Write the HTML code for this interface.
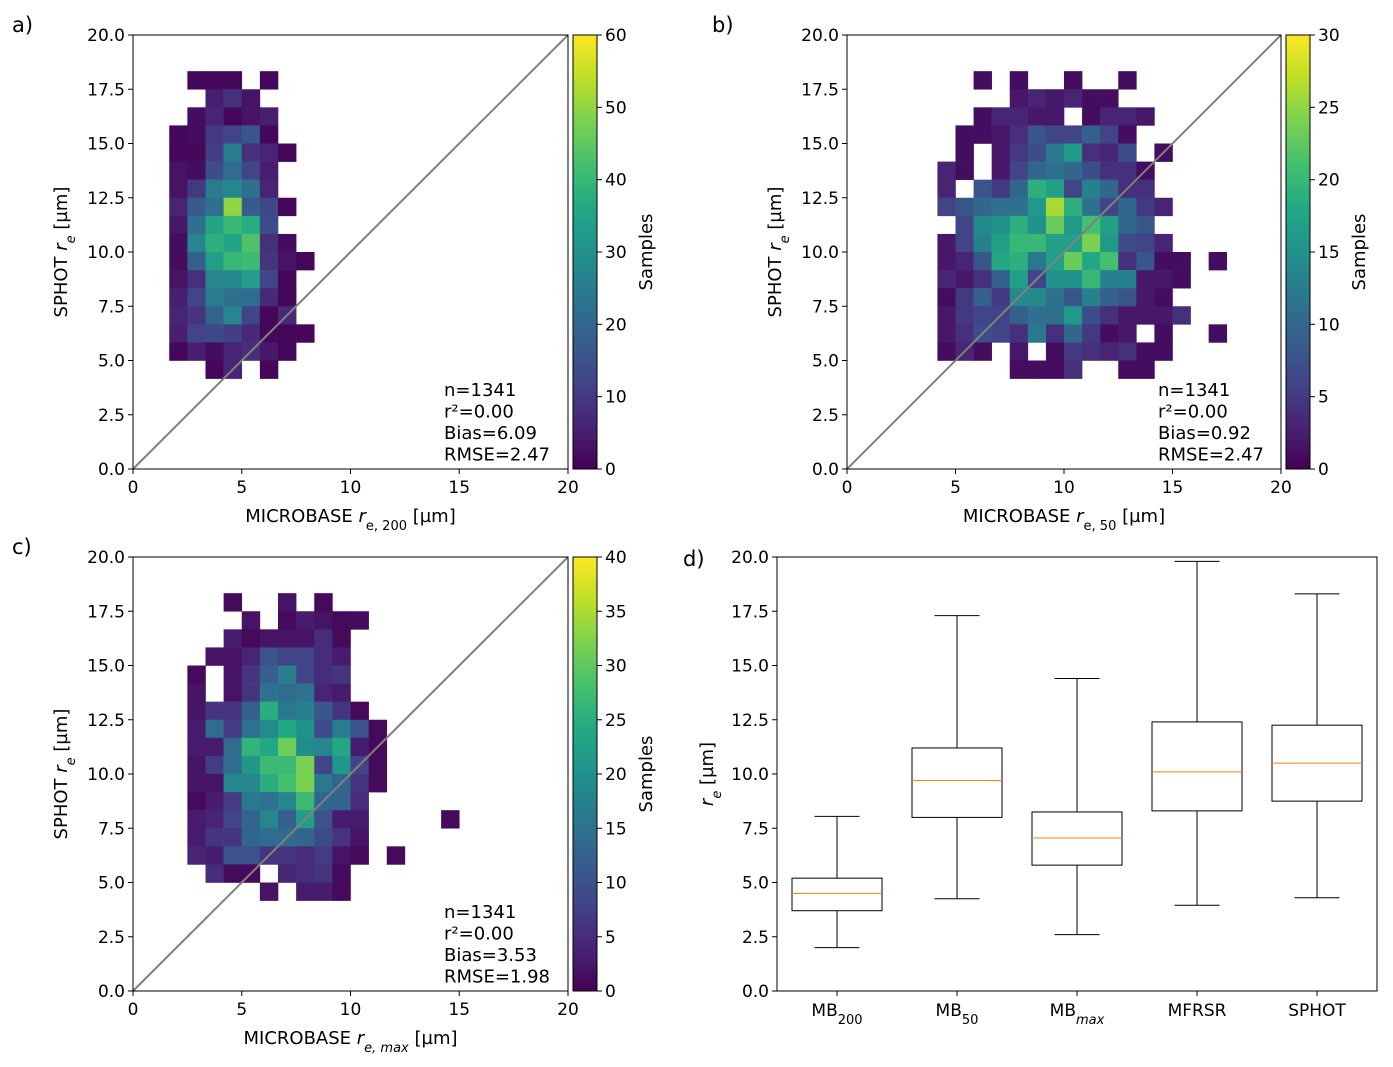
<!DOCTYPE html>
<html><head><meta charset="utf-8"><style>
body{margin:0;background:#fff;}
svg text{font-family:"DejaVu Sans","Liberation Sans",sans-serif;fill:#000;}
</style></head><body>
<svg id="fig" width="1393" height="1062" xmlns="http://www.w3.org/2000/svg">
<defs>
<linearGradient id="vir" x1="0" y1="1" x2="0" y2="0">
<stop offset="0" stop-color="#440154"/><stop offset="0.1" stop-color="#482475"/><stop offset="0.2" stop-color="#414487"/><stop offset="0.3" stop-color="#355f8d"/><stop offset="0.4" stop-color="#2a788e"/><stop offset="0.5" stop-color="#21918c"/><stop offset="0.6" stop-color="#22a884"/><stop offset="0.7" stop-color="#44bf70"/><stop offset="0.8" stop-color="#7ad151"/><stop offset="0.9" stop-color="#bddf26"/><stop offset="1" stop-color="#fde725"/>
</linearGradient>
</defs>
</svg>
<script>
// ---- data: [row(from top), col, count], 24x24 bins over 0..20
const cellsA = [[2,3,1],[2,4,1],[2,5,1],[2,7,1],[3,4,5],[3,5,8],[3,6,3],[4,3,2],[4,4,6],[4,5,1],[4,6,3],[4,7,5],
[5,2,1],[5,3,2],[5,4,10],[5,5,12],[5,6,16],[5,7,1],[6,2,1],[6,3,1],[6,4,11],[6,5,25],[6,6,8],[6,7,6],[6,8,1],
[7,2,3],[7,3,2],[7,4,14],[7,5,21],[7,6,12],[7,7,5],[8,2,3],[8,3,10],[8,4,25],[8,5,27],[8,6,22],[8,7,6],
[9,2,6],[9,3,17],[9,4,22],[9,5,50],[9,6,17],[9,7,13],[9,8,1],[10,2,4],[10,3,22],[10,4,35],[10,5,40],[10,6,37],[10,7,14],
[11,2,2],[11,3,27],[11,4,38],[11,5,35],[11,6,43],[11,7,8],[11,8,2],[12,2,2],[12,3,18],[12,4,33],[12,5,40],[12,6,41],[12,7,9],[12,8,3],[12,9,1],
[13,2,3],[13,3,8],[13,4,27],[13,5,28],[13,6,33],[13,7,12],[13,8,1],[14,2,5],[14,3,12],[14,4,25],[14,5,22],[14,6,21],[14,7,7],[14,8,1],
[15,2,6],[15,3,9],[15,4,19],[15,5,27],[15,6,12],[15,7,1],[15,8,7],[16,2,5],[16,3,12],[16,4,13],[16,5,11],[16,6,7],[16,7,1],[16,8,1],[16,9,1],
[17,2,1],[17,3,5],[17,4,2],[17,5,6],[17,6,8],[17,7,4],[17,8,1],[18,4,1],[18,5,6],[18,7,1]];
const cellsB = [[2,7,1],[2,9,1],[2,12,1],[2,15,1],[3,9,2],[3,10,3],[3,11,2],[3,12,3],[3,13,1],[3,14,1],
[4,7,1],[4,8,3],[4,9,3],[4,10,2],[4,11,2],[4,13,1],[4,14,3],[4,15,3],[4,16,2],
[5,6,1],[5,7,1],[5,8,2],[5,9,4],[5,10,8],[5,11,6],[5,12,6],[5,13,9],[5,14,6],[5,15,1],
[6,6,1],[6,8,2],[6,9,5],[6,10,7],[6,11,12],[6,12,16],[6,13,4],[6,14,3],[6,15,7],[6,17,1],
[7,5,3],[7,6,1],[7,8,2],[7,9,6],[7,10,10],[7,11,11],[7,12,10],[7,13,7],[7,14,4],[7,15,4],[7,16,1],
[8,5,3],[8,7,8],[8,8,5],[8,9,10],[8,10,19],[8,11,17],[8,12,6],[8,13,13],[8,14,10],[8,15,4],[8,16,4],
[9,5,6],[9,6,8],[9,7,10],[9,8,11],[9,9,11],[9,10,16],[9,11,26],[9,12,19],[9,13,11],[9,14,6],[9,15,10],[9,16,5],[9,17,3],
[10,6,6],[10,7,14],[10,8,15],[10,9,19],[10,10,15],[10,11,23],[10,12,16],[10,13,21],[10,14,17],[10,15,10],[10,16,8],
[11,5,2],[11,6,6],[11,7,13],[11,8,17],[11,9,20],[11,10,20],[11,11,17],[11,12,17],[11,13,24],[11,14,16],[11,15,7],[11,16,6],[11,17,3],
[12,5,2],[12,6,3],[12,7,8],[12,8,18],[12,9,19],[12,10,12],[12,11,17],[12,12,23],[12,13,18],[12,14,21],[12,15,4],[12,16,8],[12,17,1],[12,18,1],[12,20,1],
[13,5,3],[13,6,2],[13,7,4],[13,8,9],[13,9,17],[13,10,6],[13,11,15],[13,12,15],[13,13,20],[13,14,13],[13,15,13],[13,16,2],[13,17,2],[13,18,1],
[14,5,1],[14,6,5],[14,7,9],[14,8,5],[14,9,14],[14,10,14],[14,11,11],[14,12,8],[14,13,13],[14,14,9],[14,15,8],[14,16,2],[14,17,1],
[15,5,2],[15,6,5],[15,7,6],[15,8,6],[15,9,9],[15,10,11],[15,11,11],[15,12,16],[15,13,7],[15,14,4],[15,15,2],[15,16,2],[15,17,2],[15,18,4],
[16,5,2],[16,6,4],[16,7,7],[16,8,6],[16,9,4],[16,10,12],[16,11,4],[16,12,10],[16,13,5],[16,14,1],[16,15,2],[16,17,1],[16,20,1],
[17,5,1],[17,6,3],[17,7,1],[17,9,2],[17,11,1],[17,12,5],[17,13,4],[17,14,3],[17,15,4],[17,16,1],[17,17,1],
[18,9,1],[18,10,1],[18,11,1],[18,12,4],[18,15,1],[18,16,1]];
const cellsC = [[2,5,1],[2,8,2],[2,10,1],[3,6,2],[3,8,1],[3,9,3],[3,10,2],[3,11,1],[3,12,1],
[4,5,3],[4,6,1],[4,7,2],[4,8,2],[4,9,2],[4,10,5],[4,11,1],
[5,4,2],[5,5,2],[5,6,4],[5,7,10],[5,8,8],[5,9,8],[5,10,5],[5,11,3],
[6,3,1],[6,5,2],[6,6,6],[6,7,12],[6,8,17],[6,9,8],[6,10,5],[6,11,6],
[7,3,2],[7,5,2],[7,6,6],[7,7,15],[7,8,14],[7,9,15],[7,10,4],[7,11,3],
[8,3,2],[8,4,6],[8,5,6],[8,6,12],[8,7,25],[8,8,16],[8,9,17],[8,10,11],[8,11,6],[8,12,1],
[9,3,3],[9,4,14],[9,5,7],[9,6,15],[9,7,19],[9,8,24],[9,9,20],[9,10,9],[9,11,17],[9,12,10],[9,13,1],
[10,3,3],[10,4,3],[10,5,14],[10,6,26],[10,7,24],[10,8,31],[10,9,19],[10,10,18],[10,11,24],[10,12,3],[10,13,1],
[11,3,2],[11,4,7],[11,5,14],[11,6,21],[11,7,27],[11,8,27],[11,9,32],[11,10,8],[11,11,21],[11,12,8],[11,13,1],
[12,3,2],[12,4,2],[12,5,18],[12,6,18],[12,7,25],[12,8,28],[12,9,32],[12,10,16],[12,11,13],[12,12,6],[12,13,1],
[13,3,1],[13,4,3],[13,5,7],[13,6,16],[13,7,15],[13,8,18],[13,9,27],[13,10,13],[13,11,13],[13,12,5],
[14,3,3],[14,4,4],[14,5,8],[14,6,13],[14,7,18],[14,8,12],[14,9,22],[14,10,10],[14,11,3],[14,12,3],[14,17,1],
[15,3,3],[15,4,6],[15,5,6],[15,6,13],[15,7,14],[15,8,14],[15,9,13],[15,10,9],[15,11,6],[15,12,2],
[16,3,4],[16,4,3],[16,5,10],[16,6,10],[16,7,6],[16,8,6],[16,9,5],[16,10,7],[16,11,2],[16,12,1],[16,14,1],
[17,4,5],[17,5,1],[17,6,1],[17,8,4],[17,9,5],[17,10,6],[17,11,1],
[18,7,2],[18,9,3],[18,10,3],[18,11,1]];
const vmaxA = 60, vmaxB = 30, vmaxC = 40;
const cbTicksA = [0,10,20,30,40,50,60];
const cbTicksB = [0,5,10,15,20,25,30];
const cbTicksC = [0,5,10,15,20,25,30,35,40];
const axisTicksX = [0,5,10,15,20];
const axisTicksY = [0,2.5,5,7.5,10,12.5,15,17.5,20];
const statsA = ["n=1341","r²=0.00","Bias=6.09","RMSE=2.47"];
const statsB = ["n=1341","r²=0.00","Bias=0.92","RMSE=2.47"];
const statsC = ["n=1341","r²=0.00","Bias=3.53","RMSE=1.98"];
// boxplot data
const boxCats = ["MB","MB","MB","MFRSR","SPHOT"];
const boxSubs = ["200","50","max","",""];
const boxWhisLo = [2.0,4.25,2.6,3.95,4.3];
const boxQ1 = [3.7,8.0,5.8,8.3,8.75];
const boxMed = [4.5,9.7,7.05,10.1,10.5];
const boxQ3 = [5.2,11.2,8.25,12.4,12.25];
const boxWhisHi = [8.05,17.3,14.4,19.8,18.3];

const NS="http://www.w3.org/2000/svg";
const svg=document.getElementById('fig');
function mk(tag,attrs,parent){const e=document.createElementNS(NS,tag);for(const k in attrs)e.setAttribute(k,attrs[k]);(parent||svg).appendChild(e);return e;}
const vstops=[[0,[68,1,84]],[0.1,[72,36,117]],[0.2,[65,68,135]],[0.3,[53,95,141]],[0.4,[42,120,142]],[0.5,[33,145,140]],[0.6,[34,168,132]],[0.7,[68,191,112]],[0.8,[122,209,81]],[0.9,[189,223,38]],[1,[253,231,37]]];
function viridis(t){t=Math.max(0,Math.min(1,t));for(let i=1;i<vstops.length;i++){if(t<=vstops[i][0]){const a=vstops[i-1],b=vstops[i];const f=(t-a[0])/(b[0]-a[0]);const c=a[1].map((v,j)=>Math.round(v+(b[1][j]-v)*f));return `rgb(${c})`;}}return 'rgb(253,231,37)';}
function fmtY(v){return v.toFixed(1);}

function xlabelEl(x,y,parts,name){
  const t=mk('text',{x:x,y:y,'text-anchor':'middle','font-size':18});
  
  
  for(const p of parts){const s=mk('tspan',{},t);s.textContent=p.t;
    if(p.it)s.setAttribute('font-style','italic');
    if(p.sub){s.setAttribute('baseline-shift','sub');s.setAttribute('font-size','13');}}
  return t;
}

function heatPanel(o){
  const L=o.l,R=o.r,T=o.t,B=o.b;
  const sx=v=>L+(v/20)*(R-L), sy=v=>B-(v/20)*(B-T);
  const g=mk('g',{});
  
  
  const bw=20/24;
  for(const c of o.cells){
    const x0=sx(c[1]*bw), x1=sx((c[1]+1)*bw), y0=sy(20-c[0]*bw), y1=sy(20-(c[0]+1)*bw);
    const r=mk('rect',{x:x0,y:y0,width:x1-x0+0.3,height:y1-y0+0.3,fill:viridis(c[2]/o.vmax)},g);
    
    
  }
  const dl=mk('line',{x1:sx(0),y1:sy(0),x2:sx(20),y2:sy(20),stroke:'#808080','stroke-width':2},g);
  
  
  const fr=mk('rect',{x:L,y:T,width:R-L,height:B-T,fill:'none',stroke:'#000','stroke-width':1},g);
  
  
  for(const v of axisTicksX){
    mk('line',{x1:sx(v),y1:B,x2:sx(v),y2:B+5,stroke:'#000'},g);
    const t=mk('text',{x:sx(v),y:B+24,'text-anchor':'middle','font-size':17},g);t.textContent=v;
    
    
  }
  for(const v of axisTicksY){
    mk('line',{x1:L-5,y1:sy(v),x2:L,y2:sy(v),stroke:'#000'},g);
    const t=mk('text',{x:L-8,y:sy(v)+6,'text-anchor':'end','font-size':17},g);t.textContent=fmtY(v);
    
    
  }
  o.stats.forEach((s,i)=>{const t=mk('text',{x:L+311,y:B-73+i*21.5,'font-size':18},g);t.textContent=s;
    
    });
  xlabelEl((L+R)/2,B+53,o.xparts,'x-axis-title');
  const yl=mk('text',{transform:`translate(${L-66},${(T+B)/2}) rotate(-90)`,'text-anchor':'middle','font-size':18},g);
  
  
  let s=mk('tspan',{},yl);s.textContent='SPHOT ';
  s=mk('tspan',{'font-style':'italic'},yl);s.textContent='r';
  s=mk('tspan',{'font-style':'italic','baseline-shift':'sub','font-size':13},yl);s.textContent='e';
  s=mk('tspan',{},yl);s.textContent=' [µm]';
  // colorbar
  const cx=o.cbx,cw=24;
  const cb=mk('rect',{x:cx,y:T,width:cw,height:B-T,fill:'url(#vir)',stroke:'#000','stroke-width':1},g);
  
  
  const cy=v=>B-(v/o.vmax)*(B-T);
  for(const v of o.cbTicks){
    mk('line',{x1:cx+cw,y1:cy(v),x2:cx+cw+5,y2:cy(v),stroke:'#000'},g);
    const t=mk('text',{x:cx+cw+8,y:cy(v)+6,'font-size':17},g);t.textContent=v;
    
    
  }
  const sl=mk('text',{transform:`translate(${cx+cw+55},${(T+B)/2}) rotate(-90)`,'text-anchor':'middle','font-size':18},g);
  sl.textContent='Samples';
  
  
  const pl=mk('text',{x:o.plx,y:T-3,'font-size':21},g);pl.textContent=o.label;
  
  
}

heatPanel({name:'a',l:133,r:568,t:35,b:469,cells:cellsA,vmax:vmaxA,cbTicks:cbTicksA,cbx:573,stats:statsA,label:'a)',plx:12,
  xparts:[{t:'MICROBASE '},{t:'r',it:1},{t:'e, 200',it:0,sub:1},{t:' [µm]'}]});
heatPanel({name:'b',l:847,r:1281,t:35,b:469,cells:cellsB,vmax:vmaxB,cbTicks:cbTicksB,cbx:1286,stats:statsB,label:'b)',plx:712,
  xparts:[{t:'MICROBASE '},{t:'r',it:1},{t:'e, 50',sub:1},{t:' [µm]'}]});
heatPanel({name:'c',l:133,r:568,t:557,b:991,cells:cellsC,vmax:vmaxC,cbTicks:cbTicksC,cbx:573,stats:statsC,label:'c)',plx:12,
  xparts:[{t:'MICROBASE '},{t:'r',it:1},{t:'e, max',it:1,sub:1},{t:' [µm]'}]});

// boxplot panel d
(function(){
  const L=777,R=1377,T=557,B=991;
  const sy=v=>B-(v/20)*(B-T);
  const step=(R-L)/5;
  const sx=i=>L+(i+0.5)*step;
  const hw=0.375*step, cw=0.1875*step;
  const g=mk('g',{});
  
  
  for(let i=0;i<boxMed.length;i++){
    const x=sx(i);
    const bg=mk('g',{},g);
    
    
    mk('line',{x1:x,y1:sy(boxWhisLo[i]),x2:x,y2:sy(boxQ1[i]),stroke:'#000'},bg);
    mk('line',{x1:x,y1:sy(boxQ3[i]),x2:x,y2:sy(boxWhisHi[i]),stroke:'#000'},bg);
    mk('line',{x1:x-cw,y1:sy(boxWhisLo[i]),x2:x+cw,y2:sy(boxWhisLo[i]),stroke:'#000'},bg);
    mk('line',{x1:x-cw,y1:sy(boxWhisHi[i]),x2:x+cw,y2:sy(boxWhisHi[i]),stroke:'#000'},bg);
    mk('rect',{x:x-hw,y:sy(boxQ3[i]),width:2*hw,height:sy(boxQ1[i])-sy(boxQ3[i]),fill:'none',stroke:'#000'},bg);
    mk('line',{x1:x-hw,y1:sy(boxMed[i]),x2:x+hw,y2:sy(boxMed[i]),stroke:'#ff7f0e'},bg);
    mk('line',{x1:x,y1:B,x2:x,y2:B+5,stroke:'#000'},g);
    const t=mk('text',{x:x,y:B+25,'text-anchor':'middle','font-size':17},g);
    
    
    let s=mk('tspan',{},t);s.textContent=boxCats[i];
    if(boxSubs[i]){s=mk('tspan',{'baseline-shift':'sub','font-size':13},t);s.textContent=boxSubs[i];if(boxSubs[i]==='max')s.setAttribute('font-style','italic');}
  }
  const fr=mk('rect',{x:L,y:T,width:R-L,height:B-T,fill:'none',stroke:'#000'},g);
  
  
  for(const v of axisTicksY){
    mk('line',{x1:L-5,y1:sy(v),x2:L,y2:sy(v),stroke:'#000'},g);
    const t=mk('text',{x:L-8,y:sy(v)+6,'text-anchor':'end','font-size':17},g);t.textContent=fmtY(v);
    
    
  }
  const yl=mk('text',{transform:`translate(${L-64},${(T+B)/2}) rotate(-90)`,'text-anchor':'middle','font-size':18},g);
  
  
  let s=mk('tspan',{'font-style':'italic'},yl);s.textContent='r';
  s=mk('tspan',{'font-style':'italic','baseline-shift':'sub','font-size':13},yl);s.textContent='e';
  s=mk('tspan',{},yl);s.textContent=' [µm]';
  const pl=mk('text',{x:683,y:T+9,'font-size':21},g);pl.textContent='d)';
  
  
})();
</script>
</body></html>
